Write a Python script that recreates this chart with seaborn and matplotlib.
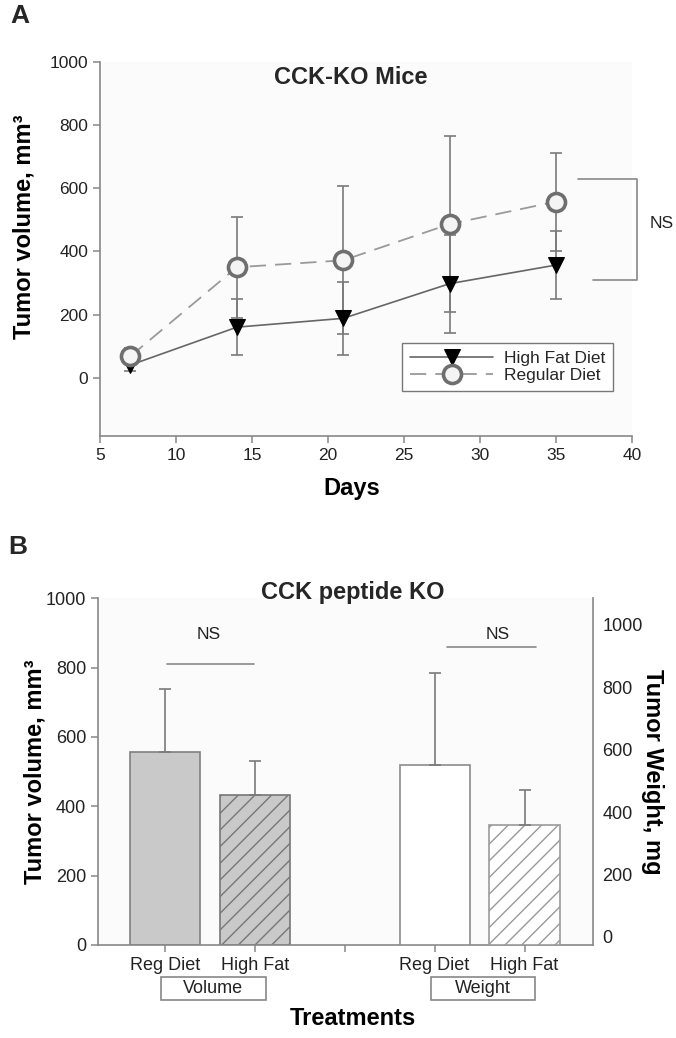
import numpy as np
import pandas as pd
import matplotlib
matplotlib.use("Agg")
import matplotlib.pyplot as plt
import matplotlib.transforms as mtransforms
from matplotlib.patches import Rectangle
import seaborn as sns

# ── Panel A: tumour growth, CCK-KO mice ──────────────────────────────────────
days = [7, 14, 21, 28, 35]
hf_mean = [40, 160, 188, 298, 357]
hf_err = [20, 88, 115, 155, 107]
reg_mean = [68, 350, 372, 487, 558]
reg_err = [25, 160, 235, 280, 155]
x_ticks_a = [5, 10, 15, 20, 25, 30, 35, 40]
y_ticks_a = [0, 200, 400, 600, 800, 1000]

# ── Panel B: end-point volume / weight ──────────────────────────────────────
diet_labels = ["Reg Diet", "High Fat"]
vol_pos = [0, 1]
vol_mean = [557, 433]
vol_err = [180, 98]
wt_pos = [3, 4]
wt_mean = [551, 360]
wt_err = [296, 110]
group_names = ["Volume", "Weight"]

sns.set_theme(style="ticks")
plt.rcParams["font.family"] = ["Liberation Sans", "DejaVu Sans"]
plt.rcParams["hatch.linewidth"] = 1.0

GRID = "#888888"
TXT = "#222222"

fig = plt.figure(figsize=(6.76, 10.38), dpi=100)
axA = fig.add_axes([0.148, 0.580, 0.787, 0.360])
axB = fig.add_axes([0.145, 0.0896, 0.732, 0.334])


def style_axis(ax, size):
    ax.set_facecolor("#fbfbfb")
    for s in ["top", "right"]:
        ax.spines[s].set_visible(False)
    for s in ["left", "bottom"]:
        ax.spines[s].set_color(GRID)
        ax.spines[s].set_linewidth(1.2)
    ax.tick_params(colors=GRID, labelcolor=TXT, labelsize=size, length=5, width=1.1)


# ---------------- Panel A ----------------
style_axis(axA, 12.5)
dfA = pd.DataFrame({"day": days, "hf": hf_mean, "reg": reg_mean})

axA.errorbar(days, reg_mean, yerr=reg_err, fmt="none", ecolor="#7a7a7a",
             elinewidth=1.2, capsize=4.5, capthick=1.2, zorder=2)
axA.errorbar(days, hf_mean, yerr=hf_err, fmt="none", ecolor="#7a7a7a",
             elinewidth=1.2, capsize=4.5, capthick=1.2, zorder=2)

sns.lineplot(data=dfA, x="day", y="hf", ax=axA, color="#666666", lw=1.2,
             marker="v", markersize=11, markerfacecolor="black",
             markeredgecolor="black", label="High Fat Diet", zorder=3)
sns.lineplot(data=dfA, x="day", y="reg", ax=axA, color="#9a9a9a", lw=1.3,
             linestyle=(0, (9, 5)), marker="o", markersize=13,
             markerfacecolor="#f4f4f4", markeredgecolor="#6e6e6e",
             markeredgewidth=2.6, label="Regular Diet", zorder=4)

axA.set_xlim(5, 40)
axA.set_ylim(-185, 1000)
axA.set_xticks(x_ticks_a)
axA.set_yticks(y_ticks_a)

axA.set_xlabel("Days", fontsize=17, fontweight="bold", color="black")
axA.xaxis.set_label_coords(0.474, -0.11)
axA.set_ylabel("Tumor volume, mm³", fontsize=17, fontweight="bold",
               color="black", va="center")
axA.yaxis.set_label_coords(-0.143, 0.56)
axA.text(21.5, 952, "CCK-KO Mice", fontsize=17, fontweight="bold",
         ha="center", va="center")

leg = axA.legend(loc="upper right", bbox_to_anchor=(0.964, 0.249),
                 borderaxespad=0, fontsize=12.5, handlelength=4.8,
                 labelspacing=0.12, fancybox=False, framealpha=1,
                 edgecolor="#777777", handletextpad=0.6, borderpad=0.45)
leg.get_frame().set_linewidth(1.0)

# NS bracket on the right
axA.plot([36.45, 40.3, 40.3, 37.4], [629, 629, 311, 311], color=GRID,
         lw=1.2, clip_on=False)
axA.text(41.97, 489, "NS", fontsize=12.5, ha="center", va="center", color=TXT)

# ---------------- Panel B ----------------
style_axis(axB, 13)
axB2 = axB.twinx()

sns.barplot(x=vol_pos, y=vol_mean, native_scale=True, width=0.78,
            color="#c9c9c9", edgecolor="#808080", linewidth=1.2,
            saturation=1, ax=axB)
sns.barplot(x=wt_pos, y=wt_mean, native_scale=True, width=0.78,
            color="white", edgecolor="#8c8c8c", linewidth=1.2,
            saturation=1, ax=axB2)

axB2.set_ylim(-26, 1085)
bottom2 = axB2.get_ylim()[0]
for p in axB2.patches:
    top = p.get_y() + p.get_height()
    p.set_y(bottom2)
    p.set_height(top - bottom2)
axB.patches[1].set_hatch("//")
axB.patches[1].set_edgecolor("#777777")
axB2.patches[1].set_hatch("//")
axB2.patches[1].set_edgecolor("#9a9a9a")

axB.errorbar(vol_pos, vol_mean, yerr=[[0, 0], vol_err], fmt="none",
             ecolor="#7a7a7a", elinewidth=1.2, capsize=4.5, capthick=1.2)
axB2.errorbar(wt_pos, wt_mean, yerr=[[0, 0], wt_err], fmt="none",
              ecolor="#7a7a7a", elinewidth=1.2, capsize=4.5, capthick=1.2)

axB.set_xlim(-0.744, 4.76)
axB.set_ylim(0, 1000)
axB.set_yticks([0, 200, 400, 600, 800, 1000])
axB.set_xticks([0, 1, 2, 3, 4])
axB.set_xticklabels([diet_labels[0], diet_labels[1], "",
                     diet_labels[0], diet_labels[1]])

for s in ["top", "left", "bottom"]:
    axB2.spines[s].set_visible(False)
axB2.spines["right"].set_color(GRID)
axB2.spines["right"].set_linewidth(1.2)
axB2.set_yticks([0, 200, 400, 600, 800, 1000])
axB2.tick_params(axis="y", length=0, pad=7, labelsize=13, labelcolor=TXT)
axB2.grid(False)
axB.grid(False)

axB.set_xlabel("Treatments", fontsize=17, fontweight="bold", color="black")
axB.xaxis.set_label_coords(0.515, -0.18)
axB.set_ylabel("Tumor volume, mm³", fontsize=17, fontweight="bold",
               color="black", va="center")
axB.yaxis.set_label_coords(-0.128, 0.5)
axB2.set_ylabel("Tumor Weight, mg", fontsize=17, fontweight="bold",
                color="black", rotation=270, va="center")
axB2.yaxis.set_label_coords(1.121, 0.5)
axB.text(0.515, 1.017, "CCK peptide KO", transform=axB.transAxes,
         fontsize=17, fontweight="bold", ha="center", va="center")

# NS lines
axB.plot([0.02, 0.99], [810, 810], color=GRID, lw=1.2)
axB.text(0.49, 896, "NS", fontsize=12.5, ha="center", va="center", color=TXT)
axB.plot([3.14, 4.13], [859, 859], color=GRID, lw=1.2)
axB.text(3.7, 896, "NS", fontsize=12.5, ha="center", va="center", color=TXT)

# group boxes under tick labels
trans = mtransforms.blended_transform_factory(axB.transData, axB.transAxes)
for name, pos in zip(group_names, [vol_pos, wt_pos]):
    x0 = pos[0] - 0.04
    axB.add_patch(Rectangle((x0, -0.158), 1.16, 0.066, transform=trans,
                            facecolor="white", edgecolor=GRID, lw=1.2,
                            clip_on=False))
    axB.text(x0 + 0.58, -0.125, name, transform=trans, fontsize=13,
             ha="center", va="center", color=TXT)

fig.text(20 / 676, 1 - 16 / 1038, "A", fontsize=19, fontweight="bold",
         ha="center", va="center")
fig.text(18 / 676, 1 - 547 / 1038, "B", fontsize=19, fontweight="bold",
         ha="center", va="center")

fig.savefig("out.png", dpi=100)
